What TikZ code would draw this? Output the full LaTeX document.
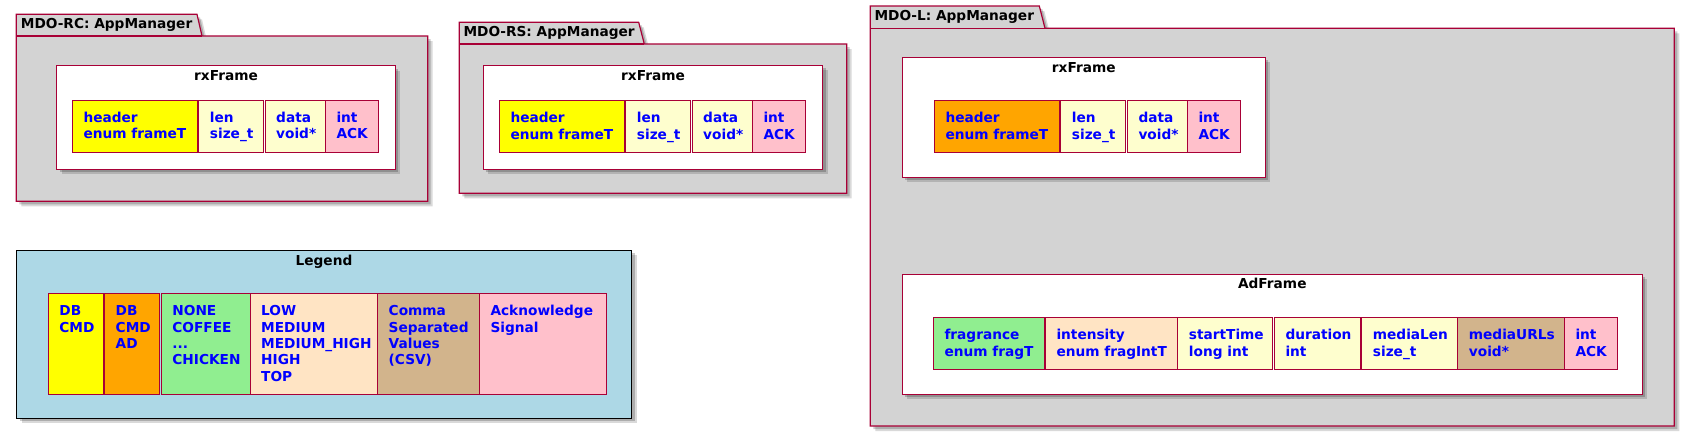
\documentclass[tikz,border=0pt]{standalone}
\usepackage{fontspec}
\setmainfont{DejaVu Sans}
\definecolor{bord}{HTML}{A80036}
\definecolor{pkgfill}{HTML}{D3D3D3}
\definecolor{ly}{HTML}{FEFECE}
\definecolor{pinkc}{HTML}{FFC0CB}
\definecolor{orangec}{HTML}{FFA500}
\definecolor{lgreen}{HTML}{90EE90}
\definecolor{bisq}{HTML}{FFE4C4}
\definecolor{tanc}{HTML}{D2B48C}
\definecolor{lblue}{HTML}{ADD8E6}
\definecolor{txtblue}{HTML}{0000FF}
\definecolor{yel}{HTML}{FFFF00}
\newcommand\fline[1]{\hbox{#1}}
\newcommand\fld[7]{%
  \node[fbox,fill=#6,minimum width=#4pt,minimum height=#5pt] (#1) at (#2,#3) {};
  \node[ftext] (#1t) at ([xshift=11pt,yshift=-22.5pt]#1.north west) {\vtop{#7}};
}
\begin{document}
\begin{tikzpicture}[x=1pt,y=-1pt,
  font=\fontsize{13.7}{16.3}\selectfont\bfseries,
  fbox/.style={draw=bord,line width=1pt,inner sep=0pt,outer sep=0pt,anchor=north west},
  ftext/.style={text=txtblue,inner sep=0pt,anchor=base west},
  ttl/.style={inner sep=0pt,anchor=base},
  ptitle/.style={inner sep=0pt,anchor=base west},
  pkgbox/.style={fill=pkgfill,draw=bord,line width=1.2pt},
  framebox/.style={fill=white,draw=bord,line width=1.2pt},
  shA/.style={fill=black,opacity=0.2,shift={(3,3)}},
  shB/.style={fill=black,opacity=0.15,shift={(5,5)}},
]
\useasboundingbox[fill=white] (0,0) rectangle (1690,432);

% ---------- MDO-RC package ----------
\foreach \s in {shB,shA}
  \fill[\s] (16.3,36) -- (16.3,14.3) -- (197,14.3) -- (202,36) -- (427.7,36) -- (427.7,201.3) -- (16.3,201.3) -- cycle;
\draw[pkgbox] (16.3,36) -- (16.3,14.3) -- (197,14.3) -- (202,36) -- (427.7,36) -- (427.7,201.3) -- (16.3,201.3) -- cycle;
\draw[bord,line width=1.2pt] (16.3,36) -- (202,36);
\node[ptitle] (rcT) at (20.7,28.3) {MDO-RC: AppManager};

% ---------- MDO-RS package ----------
\foreach \s in {shB,shA}
  \fill[\s] (459.3,44) -- (459.3,22.3) -- (638.7,22.3) -- (644.3,44) -- (846.7,44) -- (846.7,193.3) -- (459.3,193.3) -- cycle;
\draw[pkgbox] (459.3,44) -- (459.3,22.3) -- (638.7,22.3) -- (644.3,44) -- (846.7,44) -- (846.7,193.3) -- (459.3,193.3) -- cycle;
\draw[bord,line width=1.2pt] (459.3,44) -- (644.3,44);
\node[ptitle] (rsT) at (463.3,36.6) {MDO-RS: AppManager};

% ---------- MDO-L package ----------
\foreach \s in {shB,shA}
  \fill[\s] (870.3,28.3) -- (870.3,6) -- (1039.3,6) -- (1045,28.3) -- (1674.3,28.3) -- (1674.3,426) -- (870.3,426) -- cycle;
\draw[pkgbox] (870.3,28.3) -- (870.3,6) -- (1039.3,6) -- (1045,28.3) -- (1674.3,28.3) -- (1674.3,426) -- (870.3,426) -- cycle;
\draw[bord,line width=1.2pt] (870.3,28.3) -- (1045,28.3);
\node[ptitle] (lT) at (874.3,20.6) {MDO-L: AppManager};

% ---------- frames ----------
\foreach \s in {shB,shA} {
  \fill[\s] (56.7,65.7) rectangle (395.3,169.3);
  \fill[\s] (483.3,65.3) rectangle (822.7,169.3);
  \fill[\s] (902.3,57.3) rectangle (1265.3,177.3);
  \fill[\s] (902.3,274.3) rectangle (1642.3,394.3);
  \fill[\s] (16.5,250.3) rectangle (631.7,418.3);
}
\draw[framebox] (56.7,65.7) rectangle (395.3,169.3);
\draw[framebox] (483.3,65.3) rectangle (822.7,169.3);
\draw[framebox] (902.3,57.3) rectangle (1265.3,177.3);
\draw[framebox] (902.3,274.3) rectangle (1642.3,394.3);
\draw[fill=lblue,draw=black,line width=1.2pt] (16.5,250.3) rectangle (631.7,418.3);

\node[ttl] (rcF) at (226,80) {rxFrame};
\node[ttl] (rsF) at (653,80) {rxFrame};
\node[ttl] (lF) at (1083.8,72) {rxFrame};
\node[ttl] (adF) at (1272.3,288.6) {AdFrame};
\node[ttl] (lgT) at (324,265) {Legend};

% ---------- RC fields ----------
\fld{rcH}{72.3}{100}{125.4}{52.3}{yel}{\fline{header}\fline{enum frameT}}
\fld{rcL}{198.7}{100}{64.6}{52.3}{ly}{\fline{len}\fline{size\_t}}
\fld{rcD}{265}{100}{60.3}{52.3}{ly}{\fline{data}\fline{void*}}
\fld{rcI}{325.3}{100}{53}{52.3}{pinkc}{\fline{int}\fline{ACK}}

% ---------- RS fields ----------
\fld{rsH}{499.3}{100.3}{125.4}{52}{yel}{\fline{header}\fline{enum frameT}}
\fld{rsL}{625.7}{100.3}{64.6}{52}{ly}{\fline{len}\fline{size\_t}}
\fld{rsD}{692}{100.3}{60.3}{52}{ly}{\fline{data}\fline{void*}}
\fld{rsI}{752.3}{100.3}{53}{52}{pinkc}{\fline{int}\fline{ACK}}

% ---------- L rxFrame fields ----------
\fld{lH}{934.3}{100.3}{125.4}{52}{orangec}{\fline{header}\fline{enum frameT}}
\fld{lL}{1060.7}{100.3}{65}{52}{ly}{\fline{len}\fline{size\_t}}
\fld{lD}{1127.3}{100.3}{60}{52}{ly}{\fline{data}\fline{void*}}
\fld{lI}{1187.3}{100.3}{53.4}{52}{pinkc}{\fline{int}\fline{ACK}}

% ---------- AdFrame fields ----------
\fld{aF}{933.3}{317.3}{111.4}{52}{lgreen}{\fline{fragrance}\fline{enum fragT}}
\fld{aI}{1045.3}{317.3}{131.7}{52}{bisq}{\fline{intensity}\fline{enum fragIntT}}
\fld{aS}{1177.7}{317.3}{95}{52}{ly}{\fline{startTime}\fline{long int}}
\fld{aD}{1274.3}{317.3}{86.4}{52}{ly}{\fline{duration}\fline{int}}
\fld{aL}{1361.7}{317.3}{96}{52}{ly}{\fline{mediaLen}\fline{size\_t}}
\fld{aU}{1457.7}{317.3}{106.6}{52}{tanc}{\fline{mediaURLs}\fline{void*}}
\fld{aK}{1564.3}{317.3}{53}{52}{pinkc}{\fline{int}\fline{ACK}}

% ---------- Legend fields ----------
\fld{g1}{48.2}{293.3}{55.5}{101}{yel}{\fline{DB}\fline{CMD}}
\fld{g2}{104.5}{293.3}{55.1}{101}{orangec}{\fline{DB}\fline{CMD}\fline{AD}}
\fld{g3}{161.2}{293.3}{88.8}{101}{lgreen}{\fline{NONE}\fline{COFFEE}\fline{...}\fline{CHICKEN}}
\fld{g4}{250}{293.3}{127.5}{101}{bisq}{\fline{LOW}\fline{MEDIUM}\fline{MEDIUM\_HIGH}\fline{HIGH}\fline{TOP}}
\fld{g5}{377.5}{293.3}{101.8}{101}{tanc}{\fline{Comma}\fline{Separated}\fline{Values}\fline{(CSV)}}
\fld{g6}{479.3}{293.3}{127.4}{101}{pinkc}{\fline{Acknowledge}\fline{Signal}}
\end{tikzpicture}
\end{document}
